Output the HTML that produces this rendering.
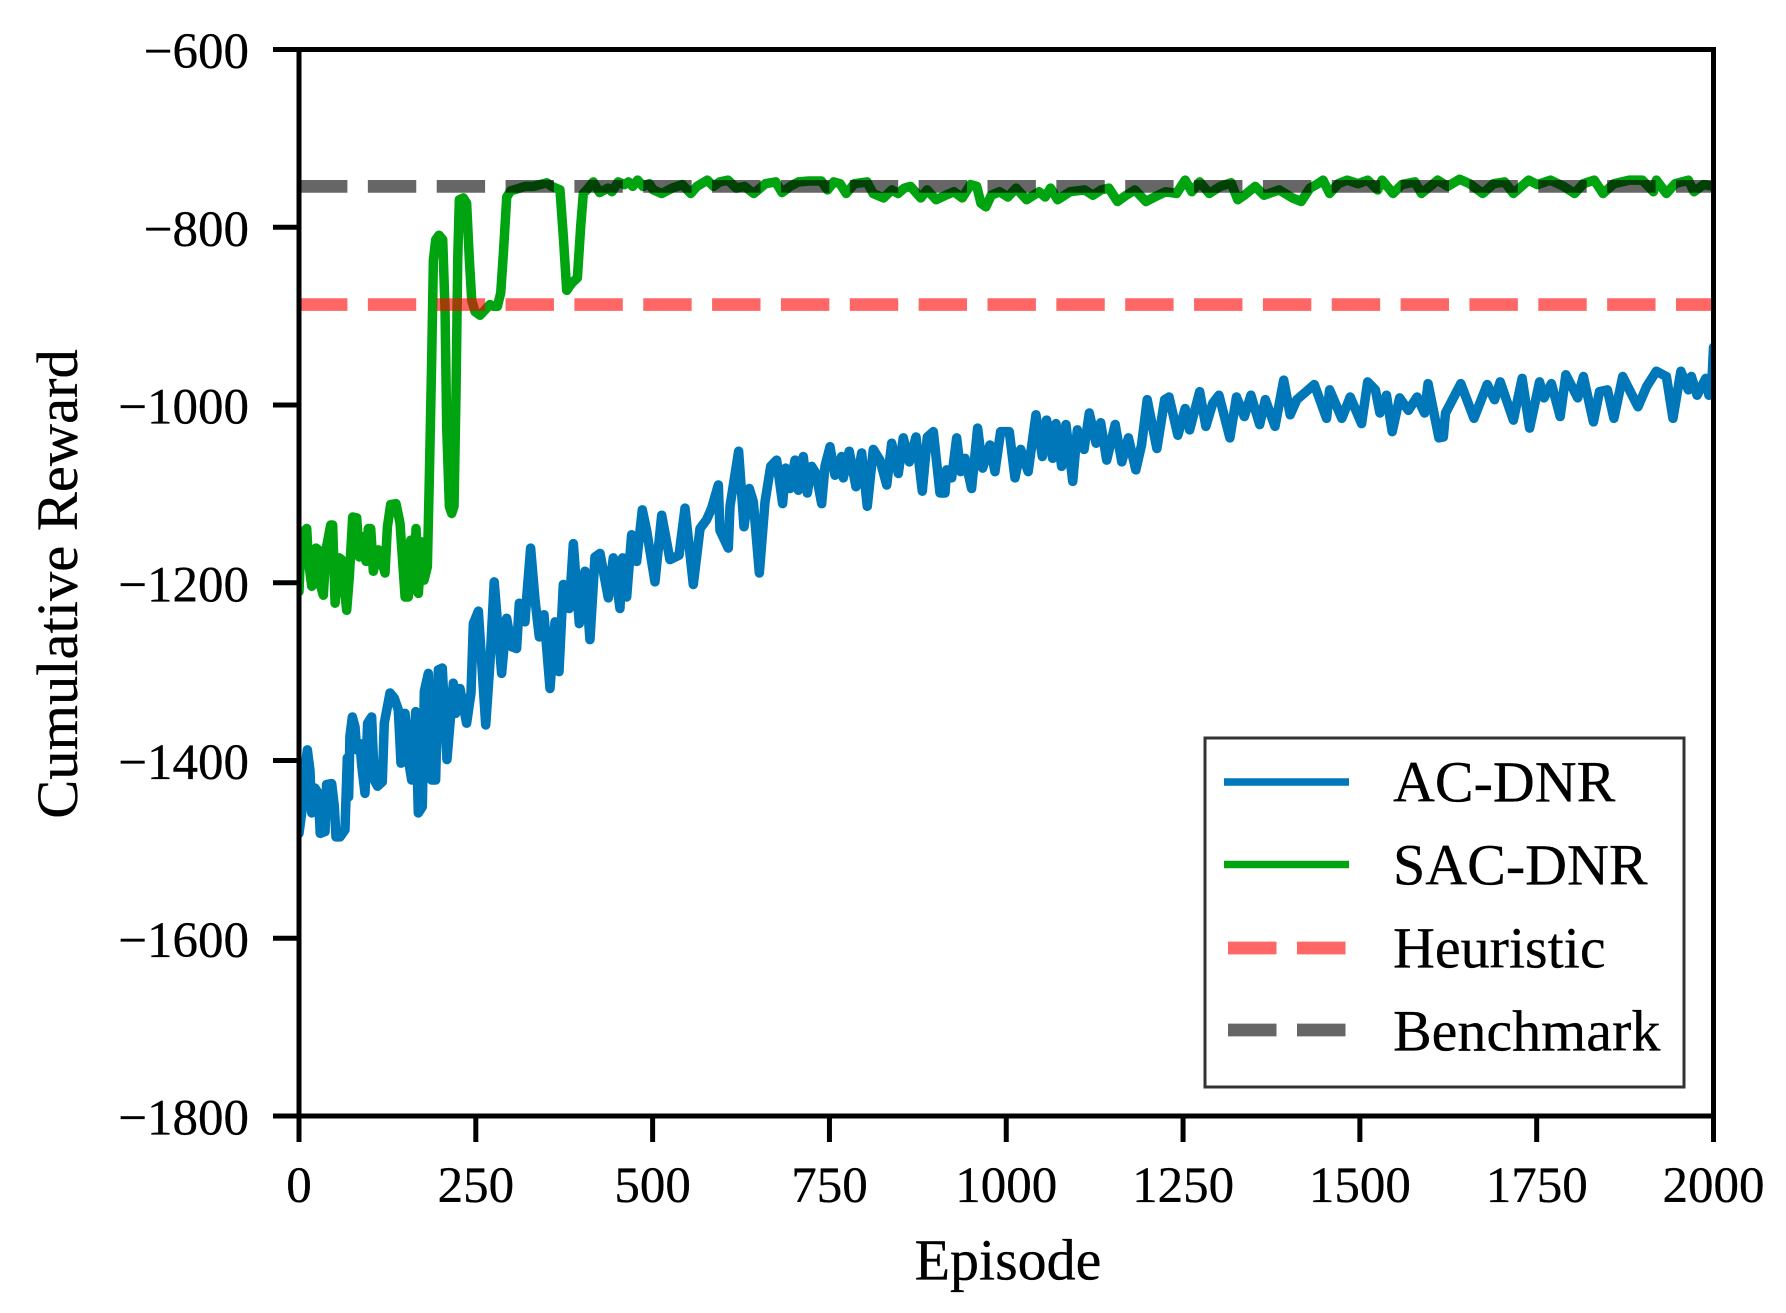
<!DOCTYPE html>
<html lang="en">
<head>
<meta charset="utf-8">
<title>Cumulative Reward vs Episode</title>
<style>
html,body{margin:0;padding:0;background:#fff;}
svg{display:block;}
text{font-family:"Liberation Serif",serif;fill:#000;stroke:#000;stroke-width:0.3px;}
</style>
</head>
<body>
<svg id="chart" width="1786" height="1313" viewBox="0 0 1786 1313" xmlns="http://www.w3.org/2000/svg">
<defs><clipPath id="plot-clip"><rect x="299" y="47" width="1414.5" height="1071"/></clipPath></defs>
<rect x="0" y="0" width="1786" height="1313" fill="#fff"/>
<g id="marks" clip-path="url(#plot-clip)"></g>
<g id="axes"></g>
<g id="legend"></g>
</svg>
<script>
const acEpisodes = [0,5.6,8.5,11.8,15.5,18,22.6,27.3,30,36.8,39,46.2,50,52.3,58,65,66.4,68.3,70.2,72,75.4,79.2,81.5,86.2,88.6,93.3,97,102.7,106.5,111,117.8,120.6,128.7,134.8,140.4,144.2,149.9,155.5,159.3,165,168.7,174.4,177.2,182.9,187.6,193.2,197,202.6,209.2,218.2,221.5,227.6,237,243.2,246.5,253.6,264,270,276,286.5,293.6,300.7,307.7,311.5,319.5,322,327.5,333.7,339.8,346.4,354.9,362,367.6,373.7,382,387.9,396.3,404.4,411.4,418.5,425.6,437.3,444.4,453.8,457.6,463.3,470.3,477.4,485.4,491.5,503.3,512.8,524.5,537.3,545.8,557.5,567,576.4,583.5,592.9,595.2,607,609.4,621.6,629.2,636.7,642.4,650.9,658.9,666.9,675.3,683.8,688,694.2,701.3,706,713,718.7,724.8,731,739,743.7,750.8,757.8,767.2,769.6,778,787.5,795.5,803.5,812,821.4,831,838,847.4,854.4,862.9,872.4,881.3,888.4,896.9,906.3,913.4,915.7,922.8,929.9,935.5,941.6,951,959.5,966.6,977,984,992,1004.3,1012.3,1020.4,1031,1042,1051,1057,1065.6,1070.3,1078.3,1084.4,1094,1100.5,1110,1117.4,1127,1133.5,1142,1154,1163.4,1172.7,1183.2,1191.3,1199.3,1213,1224,1230.2,1242.6,1253,1259.3,1273.5,1282.2,1292,1300.7,1316.2,1325.5,1336.6,1345.9,1358.3,1366.3,1380,1392.3,1401.5,1410.8,1435.6,1452.9,1457.2,1474.5,1486.3,1502.4,1511,1522,1528.3,1537.6,1545.7,1556.2,1568.5,1580.9,1591.4,1596.4,1611.8,1618,1621.1,1642.7,1661.3,1680,1690.4,1698.4,1717,1729.4,1740,1754,1760.3,1770.8,1783.2,1791.2,1808,1816,1830.2,1838.8,1850,1859.2,1871.6,1893.2,1905.6,1919.2,1933.4,1942.7,1953.8,1964.4,1968.7,1976.8,1989.1,1993.5,1997,2000];
const acRewards = [-1482,-1448,-1411,-1388,-1411,-1459,-1431,-1437,-1482,-1480,-1427,-1426,-1452,-1486,-1486,-1478,-1444,-1397,-1441,-1373,-1351,-1362,-1388,-1381,-1405,-1437,-1358,-1351,-1422,-1429,-1424,-1358,-1324,-1330,-1343,-1403,-1347,-1403,-1422,-1345,-1459,-1452,-1322,-1302,-1422,-1422,-1298,-1296,-1399,-1313,-1347,-1319,-1358,-1324,-1246,-1232,-1360,-1290,-1199,-1302,-1240,-1272,-1274,-1223,-1244,-1216,-1161,-1219,-1261,-1236,-1319,-1244,-1300,-1202,-1229,-1156,-1246,-1187,-1264,-1171,-1167,-1217,-1172,-1229,-1172,-1216,-1146,-1176,-1118,-1141,-1199,-1124,-1174,-1169,-1116,-1202,-1139,-1129,-1116,-1090,-1141,-1161,-1114,-1052,-1137,-1094,-1109,-1189,-1109,-1069,-1062,-1111,-1071,-1094,-1062,-1096,-1058,-1099,-1069,-1077,-1111,-1069,-1047,-1079,-1058,-1082,-1052,-1092,-1054,-1114,-1050,-1062,-1090,-1043,-1077,-1037,-1064,-1036,-1097,-1036,-1030,-1099,-1099,-1073,-1082,-1037,-1075,-1060,-1094,-1026,-1071,-1045,-1075,-1030,-1030,-1082,-1050,-1075,-1011,-1058,-1017,-1060,-1021,-1069,-1022,-1086,-1028,-1050,-1009,-1043,-1020,-1062,-1022,-1064,-1037,-1073,-1045,-994,-1049,-994,-991,-1034,-1004,-1028,-985,-1024,-998,-989,-1037,-991,-1013,-989,-1022,-994,-1024,-972,-1011,-994,-977,-1015,-983,-1015,-991,-1021,-974,-983,-1009,-989,-1030,-992,-1006,-991,-1009,-976,-1037,-1036,-1009,-976,-1015,-977,-994,-974,-1017,-970,-1026,-974,-992,-976,-1013,-966,-992,-968,-1019,-985,-983,-1015,-968,-1002,-979,-962,-968,-1015,-962,-983,-968,-989,-970,-989,-985,-935];
const sacEpisodes = [0,2,5.2,10.9,13.2,18,24,27.4,29.7,34.4,38.2,44.8,47.6,51,57,60.3,67.4,71.2,75.9,81.6,85.3,88.6,94.8,98,101.4,105.1,112.2,121.6,125,129.6,137.2,142.8,150,154.6,158,161.7,165.5,168.8,173.5,176.8,181.5,184.3,187.6,190,193.3,198,203.2,206.5,208.8,212.6,215.9,219.2,222,224.4,226.7,232.4,237,240.9,244.2,248.9,256,263,270,275.7,280.5,285.2,289,293.7,299.3,307.8,319.6,331.4,350.2,357.3,369,373.8,378.5,385.5,393.6,398.3,402,409.1,416,425,436.6,442.5,451.3,460,466,471.8,478.8,486.4,495.2,501,512.8,527.5,542,553.9,562.7,577.3,586,595,606.6,618.3,630,643,659.4,674,683,694.5,706.3,721,738.5,747.3,756,765,773.7,785.4,803,811.8,826.4,838.2,847,855.8,864.6,879.2,888,900.9,914.4,926,937.8,949.5,958.3,964.2,971.2,978.8,990.6,1002.3,1014,1028.7,1046.3,1055,1062.7,1072.6,1090.2,1110.8,1122.5,1134.2,1145,1157.3,1169.6,1182,1197.5,1209.8,1225.3,1240.7,1253,1262.4,1273.5,1287,1302.6,1318,1327.3,1336.6,1352,1364.4,1386,1404.6,1417,1429.4,1438.7,1448,1457.2,1469.6,1482,1497.4,1511,1525.2,1531.4,1546.9,1559.3,1577.8,1587,1610,1624.2,1641,1655.1,1673.7,1689.2,1704.6,1717,1738.6,1751,1769.6,1788.1,1803.6,1816,1831.4,1843.8,1859.2,1880.9,1899.4,1915,1919.2,1933.4,1945.8,1964.4,1972.4,1986,2000];
const sacRewards = [-1210,-1170,-1144,-1139,-1174,-1204,-1161,-1163,-1201,-1214,-1163,-1135,-1135,-1223,-1172,-1174,-1231,-1193,-1126,-1127,-1171,-1148,-1176,-1139,-1139,-1187,-1163,-1189,-1137,-1112,-1111,-1133,-1216,-1216,-1152,-1208,-1139,-1212,-1154,-1197,-1182,-1081,-949,-837,-814,-809,-814,-893,-1024,-1114,-1122,-1114,-987,-837,-769,-767,-773,-837,-882,-895,-899,-893,-887,-889,-889,-874,-829,-766,-759,-757,-754,-754,-750,-754,-758,-811,-871,-863,-857,-799,-762,-756,-749,-761,-756,-760,-749,-752,-749,-754,-747,-754,-751,-758,-762,-756,-752,-762,-754,-747,-754,-749,-747,-756,-754,-762,-751,-749,-761,-754,-749,-748,-748,-758,-749,-751,-762,-751,-749,-762,-767,-758,-762,-756,-754,-767,-758,-769,-764,-760,-767,-752,-754,-773,-777,-764,-760,-766,-756,-769,-760,-766,-756,-769,-760,-758,-764,-758,-756,-771,-764,-758,-771,-766,-760,-762,-747,-760,-749,-762,-754,-750,-769,-764,-754,-764,-758,-767,-771,-756,-752,-747,-762,-751,-747,-751,-747,-758,-747,-762,-752,-749,-762,-747,-754,-746,-751,-762,-751,-749,-762,-747,-752,-747,-754,-762,-751,-747,-762,-751,-747,-747,-760,-747,-762,-751,-747,-760,-752,-754];
const heuristicLevel = [-887];
const benchmarkLevel = [-754];
const xTickValues = [0,250,500,750,1000,1250,1500,1750,2000];
const yTickValues = [-600,-800,-1000,-1200,-1400,-1600,-1800];
const legendLabels = ["AC-DNR","SAC-DNR","Heuristic","Benchmark"];

const NS = "http://www.w3.org/2000/svg";
const X0 = 299, X1 = 1713.5, Y0 = 49.5, Y1 = 1116;
const xMin = 0, xMax = 2000, yMax = -600, yMin = -1800;
function xScale(v){ return X0 + (v - xMin) / (xMax - xMin) * (X1 - X0); }
function yScale(v){ return Y0 + (yMax - v) / (yMax - yMin) * (Y1 - Y0); }
function svgEl(tag, props, parent){
  const e = document.createElementNS(NS, tag);
  for (const k in props) e.setAttribute(k, props[k]);
  parent.appendChild(e);
  return e;
}
function toPoints(xs, ys){ return xs.map((x, i) => xScale(x).toFixed(2) + "," + yScale(ys[i]).toFixed(2)).join(" "); }

const marks = document.getElementById("marks");
const axes = document.getElementById("axes");
const legend = document.getElementById("legend");

const acLine = svgEl("polyline", {points: toPoints(acEpisodes, acRewards), fill: "none", stroke: "#0077b8", "stroke-width": 9.5, "stroke-linejoin": "round", "stroke-linecap": "round"}, marks);


const sacLine = svgEl("polyline", {points: toPoints(sacEpisodes, sacRewards), fill: "none", stroke: "#00a310", "stroke-width": 9.5, "stroke-linejoin": "round", "stroke-linecap": "round"}, marks);


const heurLine = svgEl("line", {x1: xScale(xMin), x2: xScale(xMax), y1: yScale(heuristicLevel[0]), y2: yScale(heuristicLevel[0]), stroke: "rgba(255,0,0,0.6)", "stroke-width": 12.7, "stroke-dasharray": "48.4 20.45"}, marks);


const benchLine = svgEl("line", {x1: xScale(xMin), x2: xScale(xMax), y1: yScale(benchmarkLevel[0]), y2: yScale(benchmarkLevel[0]), stroke: "rgba(0,0,0,0.6)", "stroke-width": 12.7, "stroke-dasharray": "48.4 20.45"}, marks);



const frame = svgEl("rect", {x: X0, y: Y0, width: X1 - X0, height: Y1 - Y0, fill: "none", stroke: "#000", "stroke-width": 5}, axes);



xTickValues.forEach(function(v){
  const px = xScale(v);
  const tick = svgEl("line", {x1: px, x2: px, y1: Y1, y2: Y1 + 26, stroke: "#000", "stroke-width": 5}, axes);
  
  
  const label = svgEl("text", {x: px, y: 1202, "text-anchor": "middle", "font-size": 51}, axes);
  
  
  label.textContent = String(v);
});

yTickValues.forEach(function(v){
  const py = yScale(v);
  const tick = svgEl("line", {x1: X0 - 26, x2: X0, y1: py, y2: py, stroke: "#000", "stroke-width": 5}, axes);
  
  
  const label = svgEl("text", {x: 249, y: py + 18.5, "text-anchor": "end", "font-size": 51}, axes);
  
  
  label.textContent = "\u2212" + Math.abs(v);
});

const xTitle = svgEl("text", {x: 1008, y: 1279.5, "text-anchor": "middle", "font-size": 58}, axes);


xTitle.textContent = "Episode";
const yTitle = svgEl("text", {x: 0, y: 0, "text-anchor": "middle", "font-size": 58.5, transform: "translate(77,584) rotate(-90)"}, axes);


yTitle.textContent = "Cumulative Reward";

const legendBox = svgEl("rect", {x: 1205, y: 738, width: 479, height: 349, fill: "#fff", stroke: "#333", "stroke-width": 3}, legend);


const handleStyles = [
  {stroke: "#0077b8", w: 7.5, dash: null, y: 782},
  {stroke: "#00a310", w: 7.5, dash: null, y: 864.5},
  {stroke: "rgba(255,0,0,0.6)", w: 12.7, dash: "48.5 20.5", y: 948},
  {stroke: "rgba(0,0,0,0.6)", w: 12.7, dash: "48.5 20.5", y: 1030}
];
const legendBaselines = [801.5, 884.5, 967.5, 1050.5];
legendLabels.forEach(function(name, i){
  const s = handleStyles[i];
  const isDash = s.dash !== null;
  const h = svgEl("line", {x1: isDash ? 1228 : 1224, x2: isDash ? 1345.5 : 1349, y1: s.y, y2: s.y, stroke: s.stroke, "stroke-width": s.w}, legend);
  if (isDash) h.setAttribute("stroke-dasharray", s.dash);
  
  
  const t = svgEl("text", {x: 1393, y: legendBaselines[i], "font-size": 58}, legend);
  
  
  t.textContent = name;
});
</script>
</body>
</html>
